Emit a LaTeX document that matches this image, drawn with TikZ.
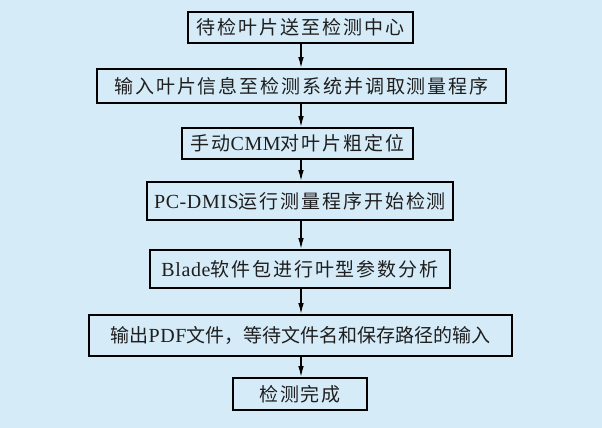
\documentclass[tikz,border=0pt]{standalone}
\usepackage{fontspec}
\usetikzlibrary{arrows.meta}
\setmainfont{Liberation Serif}[LetterSpace=3]
\newfontfamily\cjk{Noto Sans CJK SC}[LetterSpace=10]
\newfontfamily\cjkt{Noto Sans CJK SC}[LetterSpace=0]
\newcommand\zh[1]{{\fontsize{19}{22}\cjk #1}}
\newcommand\zht[1]{{\fontsize{19}{22}\cjkt #1}}
\definecolor{bgblue}{HTML}{D6EBF8}
\definecolor{txt}{HTML}{1E1E1E}
\tikzset{
  stepbox/.style={draw=black, line width=1.6pt, fill=bgblue, text=txt,
    inner sep=0pt, font=\fontsize{20}{24}\selectfont},
  arr/.style={line width=1.4pt, -{Latex[length=11pt,width=5.5pt]}}
}
\begin{document}
\begin{tikzpicture}[x=1pt,y=-1pt]
\fill[bgblue] (0,0) rectangle (602,428);
\useasboundingbox (0,0) rectangle (602,428);
\coordinate (ax) at (301,0);
\node[stepbox, minimum width=225pt, minimum height=31pt] (b1) at (300.5,27.5) {\zh{待检叶片送至检测中心}};
\node[stepbox, minimum width=409pt, minimum height=34pt] (b2) at (301.5,86) {\zh{输入叶片信息至检测系统并调取测量程序}};
\node[stepbox, minimum width=231pt, minimum height=31pt] (b3) at (297.5,143.5) {\zh{手动}CMM\zh{对叶片粗定位}};
\node[stepbox, minimum width=306pt, minimum height=38pt] (b4) at (300,201) {PC-DMIS\zh{运行测量程序开始检测}};
\node[stepbox, minimum width=300pt, minimum height=38pt] (b5) at (300,269) {Blade\zh{软件包进行叶型参数分析}};
\node[stepbox, minimum width=423pt, minimum height=41pt] (b6) at (300.5,335.5) {\zht{输出}PDF\zht{文件，等待文件名和保存路径的输入}};
\node[stepbox, minimum width=134pt, minimum height=32pt] (b7) at (300,394) {\zh{检测完成}};
\foreach \a/\b in {b1/b2,b2/b3,b3/b4,b4/b5,b5/b6,b6/b7}
  \draw[arr] (\a.south -| ax) -- (\b.north -| ax);
\end{tikzpicture}
\end{document}
